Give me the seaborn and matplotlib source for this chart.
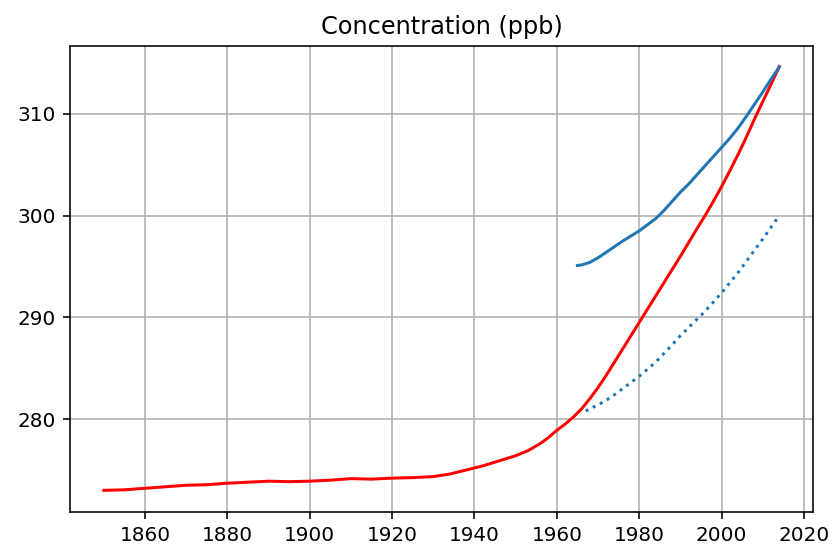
import matplotlib
matplotlib.use("Agg")
import matplotlib.pyplot as plt
import seaborn as sns

# Historical concentration (red)
hist_years = [1850, 1855, 1860, 1865, 1870, 1875, 1880, 1885, 1890, 1895, 1900, 1905,
              1910, 1915, 1920, 1925, 1930, 1934, 1938, 1942, 1946, 1950, 1953, 1956,
              1958, 1960, 1962, 1964, 1966, 1968, 1970, 1972, 1974, 1976, 1978, 1980,
              1982, 1984, 1986, 1988, 1990, 1992, 1994, 1996, 1998, 2000, 2002, 2004,
              2006, 2008, 2010, 2012, 2014]
hist_vals = [273.0, 273.05, 273.2, 273.35, 273.5, 273.55, 273.7, 273.8, 273.9, 273.85, 273.9, 274.0,
             274.15, 274.1, 274.2, 274.25, 274.35, 274.6, 275.0, 275.4, 275.9, 276.4, 276.9, 277.6,
             278.2, 278.9, 279.5, 280.2, 281.0, 282.0, 283.1, 284.3, 285.6, 286.9, 288.2, 289.5,
             290.8, 292.1, 293.4, 294.7, 296.0, 297.35, 298.7, 300.0, 301.4, 302.85, 304.4, 306.0,
             307.7, 309.5, 311.2, 312.9, 314.65]

# Scenario (blue solid)
proj_years = [1965, 1966, 1968, 1970, 1972, 1974, 1976, 1978, 1980, 1982, 1984, 1986, 1988,
              1990, 1992, 1994, 1996, 1998, 2000, 2002, 2004, 2006, 2008, 2010, 2012, 2014]
proj_vals = [295.1, 295.15, 295.4, 295.85, 296.4, 296.95, 297.5, 298.0, 298.5, 299.1, 299.7, 300.5, 301.4,
             302.3, 303.1, 304.0, 304.9, 305.8, 306.7, 307.6, 308.6, 309.75, 310.95, 312.15, 313.4, 314.6]

# Alternative scenario (blue dotted)
alt_years = [1967, 1970, 1973, 1976, 1980, 1984, 1988, 1990, 1992, 1994, 1996, 1998, 2000,
             2002, 2004, 2006, 2008, 2010, 2012, 2014]
alt_vals = [280.8, 281.4, 282.1, 283.0, 284.2, 285.6, 287.3, 288.2, 289.0, 289.8, 290.6, 291.5, 292.4,
            293.4, 294.4, 295.5, 296.6, 297.7, 298.85, 300.0]

fig = plt.figure(figsize=(837/144, 547/144), dpi=144)
ax = fig.add_axes([70/837, 1-511.7/547, (813-70)/837, (511.7-45.7)/547])

sns.lineplot(x=hist_years, y=hist_vals, color="red", linewidth=1.5, ax=ax)
sns.lineplot(x=proj_years, y=proj_vals, color="#1f77b4", linewidth=1.5, ax=ax)
sns.lineplot(x=alt_years, y=alt_vals, color="#1f77b4", linewidth=1.5, linestyle=":", ax=ax)

ax.set_title("Concentration (ppb)", fontsize=12)
ax.grid(True, color="#b0b0b0", linewidth=0.8)
ax.set_axisbelow(True)
ax.set_xticks([1860, 1880, 1900, 1920, 1940, 1960, 1980, 2000, 2020])
ax.set_yticks([280, 290, 300, 310])
ax.set_xlim(1841.8, 2022.2)
ax.set_ylim(270.9, 316.7)
ax.tick_params(labelsize=10)

fig.savefig("out.png", dpi=144)
